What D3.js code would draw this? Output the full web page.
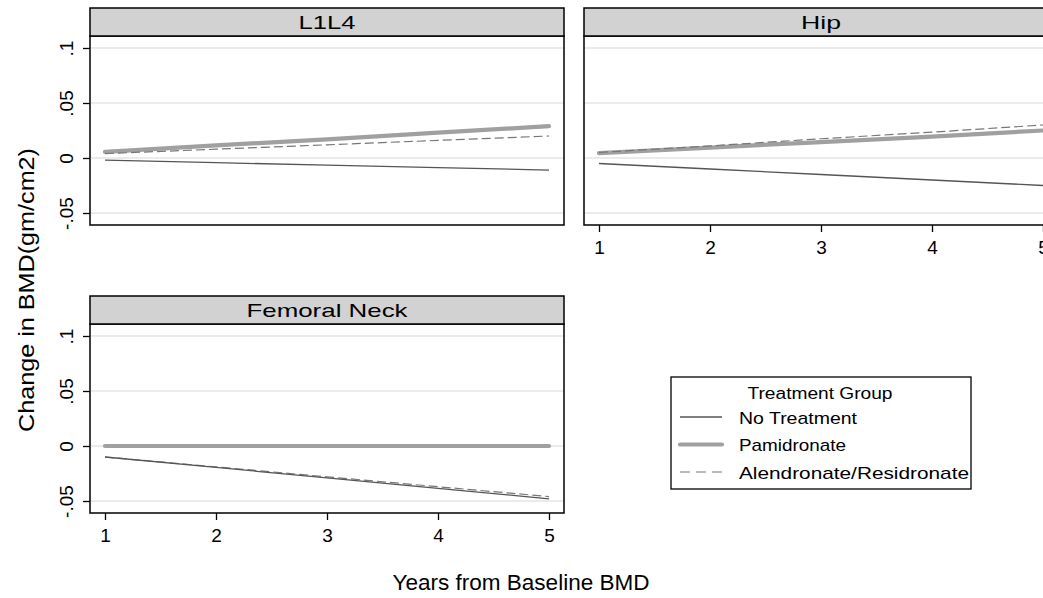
<!DOCTYPE html>
<html>
<head>
<meta charset="utf-8">
<script src="https://cdn.jsdelivr.net/npm/d3@7"></script>
<style>
  body { margin: 0; background: #fff; }
  text { font-family: "Liberation Sans", Arial, sans-serif; fill: #000; }
</style>
</head>
<body>
<div id="main"></div>
<script>
const width = 1043;
const height = 598;

const years = [1, 2, 3, 4, 5];
const yTicks = [-0.05, 0, 0.05, 0.1];
const yTickLabels = ["-.05", "0", ".05", ".1"];
const groups = ["No Treatment", "Pamidronate", "Alendronate/Residronate"];
const panelNames = ["L1L4", "Hip", "Femoral Neck"];

// change in BMD per year, one array per panel and group
const l1l4NoTreatment = [-0.002, -0.0042, -0.0065, -0.0087, -0.011];
const l1l4Pamidronate = [0.0055, 0.0115, 0.017, 0.023, 0.029];
const l1l4Alendronate = [0.004, 0.008, 0.012, 0.016, 0.02];
const hipNoTreatment = [-0.005, -0.01, -0.015, -0.02, -0.025];
const hipPamidronate = [0.0045, 0.0095, 0.0145, 0.0195, 0.025];
const hipAlendronate = [0.005, 0.011, 0.0175, 0.0235, 0.03];
const fnNoTreatment = [-0.01, -0.0195, -0.029, -0.0385, -0.048];
const fnPamidronate = [0, 0, 0, 0, 0];
const fnAlendronate = [-0.01, -0.019, -0.028, -0.037, -0.046];

const panelSeries = [
  [l1l4NoTreatment, l1l4Pamidronate, l1l4Alendronate],
  [hipNoTreatment, hipPamidronate, hipAlendronate],
  [fnNoTreatment, fnPamidronate, fnAlendronate],
];

const lineStyles = [
  { stroke: "#555555", width: 1.3, dash: null },
  { stroke: "#a0a0a0", width: 4.2, dash: null },
  { stroke: "#777777", width: 1.2, dash: "9,4" },
];

// stata stretches its text a bit sideways, so widths are fixed per label
const headerWidths = [57, 40, 161];
const legendWidths = [118, 107, 230];

// panel layout (col, row), x axis shown only on bottom panel of each column
const layout = [
  { col: 0, row: 0, xAxis: false, yAxis: true },
  { col: 1, row: 0, xAxis: true, yAxis: false },
  { col: 0, row: 1, xAxis: true, yAxis: true },
];
const colX = [90, 584];
const panelW = 474;
const rowY = [8, 296];
const headerH = 28;
const plotH = 189;

let svg = d3
  .select("#main")
  .append("svg")
  .attr("width", width)
  .attr("height", height);

layout.forEach((p, k) => {
  const x0 = colX[p.col];
  const top = rowY[p.row];
  const plotTop = top + headerH;
  const plotBottom = plotTop + plotH;

  const x = d3.scaleLinear().domain([1, 5]).range([x0 + 15, x0 + 459]);
  const y = d3
    .scaleLinear()
    .domain([-0.0609, 0.1109])
    .range([plotBottom, plotTop]);

  const g = svg.append("g").attr("class", "panel");

  // grid lines
  g.selectAll(".grid")
    .data(yTicks)
    .enter()
    .append("line")
    .attr("x1", x0)
    .attr("x2", x0 + panelW)
    .attr("y1", (d) => y(d))
    .attr("y2", (d) => y(d))
    .attr("stroke", "#e4e4e4")
    .attr("stroke-width", 1.6);

  // series
  const line = d3
    .line()
    .x((d, i) => x(years[i]))
    .y((d) => y(d));
  [1, 2, 0].forEach((s) => {
    const st = lineStyles[s];
    g.append("path")
      .attr("d", line(panelSeries[k][s]))
      .attr("fill", "none")
      .attr("stroke", st.stroke)
      .attr("stroke-width", st.width)
      .attr("stroke-linecap", s === 1 ? "round" : "butt")
      .attr("stroke-dasharray", st.dash);
  });

  // frame
  g.append("rect")
    .attr("x", x0)
    .attr("y", plotTop)
    .attr("width", panelW)
    .attr("height", plotH)
    .attr("fill", "none")
    .attr("stroke", "#000")
    .attr("stroke-width", 1.5);

  // header
  g.append("rect")
    .attr("x", x0)
    .attr("y", top)
    .attr("width", panelW)
    .attr("height", headerH)
    .attr("fill", "#d2d2d2")
    .attr("stroke", "#000")
    .attr("stroke-width", 1.5);
  g.append("text")
    .attr("x", x0 + panelW / 2)
    .attr("y", top + 20.5)
    .attr("text-anchor", "middle")
    .attr("textLength", headerWidths[k])
    .attr("lengthAdjust", "spacingAndGlyphs")
    .style("font-size", "19px")
    .text(panelNames[k]);

  if (p.yAxis) {
    const yAxis = d3
      .axisLeft(y)
      .tickValues(yTicks)
      .tickSize(7)
      .tickFormat((d, i) => yTickLabels[i]);
    const ga = g
      .append("g")
      .attr("transform", `translate(${x0},0)`)
      .call(yAxis);
    ga.select(".domain").remove();
    ga.selectAll(".tick line").attr("stroke", "#000").attr("stroke-width", 1.3);
    ga.selectAll(".tick text")
      .attr("x", 0)
      .attr("y", 0)
      .attr("dy", 0)
      .attr("transform", "translate(-17,0) rotate(-90)")
      .attr("text-anchor", "middle")
      .style("font-family", "Liberation Sans, Arial, sans-serif")
      .style("font-size", "19px")
      .attr("fill", "#000");
  }

  if (p.xAxis) {
    const xAxis = d3.axisBottom(x).tickValues(years).tickSize(7).tickFormat(d3.format("d"));
    const ga = g
      .append("g")
      .attr("transform", `translate(0,${plotBottom})`)
      .call(xAxis);
    ga.select(".domain").remove();
    ga.selectAll(".tick line").attr("stroke", "#000").attr("stroke-width", 1.3);
    ga.selectAll(".tick text")
      .attr("y", 29)
      .attr("dy", 0)
      .style("font-family", "Liberation Sans, Arial, sans-serif")
      .style("font-size", "19px")
      .attr("fill", "#000");
  }
});

// axis titles
svg.append("text")
  .attr("transform", "translate(34,290) rotate(-90)")
  .attr("text-anchor", "middle")
  .attr("textLength", 284)
  .attr("lengthAdjust", "spacingAndGlyphs")
  .style("font-size", "22px")
  .text("Change in BMD(gm/cm2)");

svg.append("text")
  .attr("x", 521)
  .attr("y", 590)
  .attr("text-anchor", "middle")
  .attr("textLength", 257)
  .attr("lengthAdjust", "spacingAndGlyphs")
  .style("font-size", "22px")
  .text("Years from Baseline BMD");

// legend
const legend = svg.append("g").attr("class", "legend");
legend.append("rect")
  .attr("x", 671)
  .attr("y", 377)
  .attr("width", 300)
  .attr("height", 112)
  .attr("fill", "#fff")
  .attr("stroke", "#000")
  .attr("stroke-width", 1.3);
legend.append("text")
  .attr("x", 820)
  .attr("y", 399)
  .attr("text-anchor", "middle")
  .attr("textLength", 145)
  .attr("lengthAdjust", "spacingAndGlyphs")
  .style("font-size", "16px")
  .text("Treatment Group");
const rowYs = d3.scalePoint().domain(groups).range([417, 472]);
groups.forEach((gName, i) => {
  const st = lineStyles[i];
  legend.append("line")
    .attr("x1", 680)
    .attr("x2", 722)
    .attr("y1", rowYs(gName))
    .attr("y2", rowYs(gName))
    .attr("stroke", st.stroke)
    .attr("stroke-width", st.width)
    .attr("stroke-linecap", i === 1 ? "round" : "butt")
    .attr("stroke-dasharray", st.dash ? "10,6" : null);
  legend.append("text")
    .attr("x", 739)
    .attr("y", rowYs(gName) + 6.5)
    .attr("textLength", legendWidths[i])
    .attr("lengthAdjust", "spacingAndGlyphs")
    .style("font-size", "17px")
    .text(gName);
});
</script>
</body>
</html>
